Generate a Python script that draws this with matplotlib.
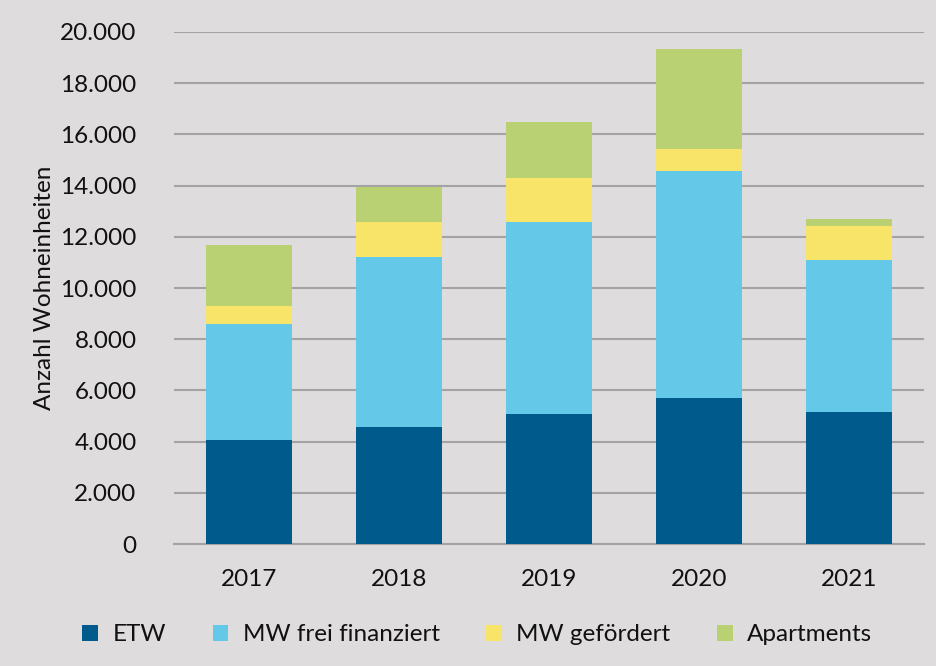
import matplotlib
matplotlib.use("Agg")
import matplotlib.pyplot as plt
from matplotlib.ticker import FuncFormatter

years = ["2017", "2018", "2019", "2020", "2021"]
etw = [4060, 4560, 5080, 5700, 5160]
mw_frei = [4550, 6670, 7500, 8880, 5930]
mw_gefoerdert = [670, 1330, 1720, 860, 1330]
apartments = [2420, 1390, 2180, 3900, 260]

series = [
    ("ETW", etw, "#005a8c"),
    ("MW frei finanziert", mw_frei, "#64c8e8"),
    ("MW gefördert", mw_gefoerdert, "#f9e46a"),
    ("Apartments", apartments, "#b9d173"),
]

plt.rcParams['font.family'] = ['Lato', 'DejaVu Sans']
bg = "#dedcdc"
fs = 17.5
fig = plt.figure(figsize=(9.36, 6.66), dpi=100, facecolor=bg)
ax = fig.add_axes([0.186, 0.183, 0.801, 0.769], facecolor=bg)

x = list(range(len(years)))
bottom = [0] * len(years)
for name, vals, col in series:
    ax.bar(x, vals, bottom=bottom, width=0.575, color=col, label=name, zorder=3)
    bottom = [b + v for b, v in zip(bottom, vals)]

ax.set_ylim(0, 20000)
ax.set_xlim(-0.5, len(years) - 0.5)
ax.set_yticks(range(0, 20001, 2000))
ax.yaxis.set_major_formatter(FuncFormatter(lambda v, p: f"{int(v):,}".replace(",", ".")))
ax.set_xticks(x)
ax.set_xticklabels(years)
ax.tick_params(axis='both', length=0, labelsize=fs, colors="#111111")
ax.tick_params(axis='y', pad=27)
ax.tick_params(axis='x', pad=18)
ax.grid(axis='y', color="#a3a3a3", linewidth=1.5, zorder=0)
for s in ["top", "right", "left"]:
    ax.spines[s].set_visible(False)
ax.spines["bottom"].set_color("#a3a3a3")
ax.spines["bottom"].set_linewidth(1.5)
ax.set_ylabel("Anzahl Wohneinheiten", fontsize=fs, color="#111111", labelpad=4)

fig.legend(loc="lower center", bbox_to_anchor=(0.51, -0.002), ncol=4, frameon=False,
           fontsize=fs, handlelength=0.65, handleheight=0.65, columnspacing=1.9,
           handletextpad=0.6, labelcolor="#111111")

fig.savefig("out.png", dpi=100, facecolor=bg)
